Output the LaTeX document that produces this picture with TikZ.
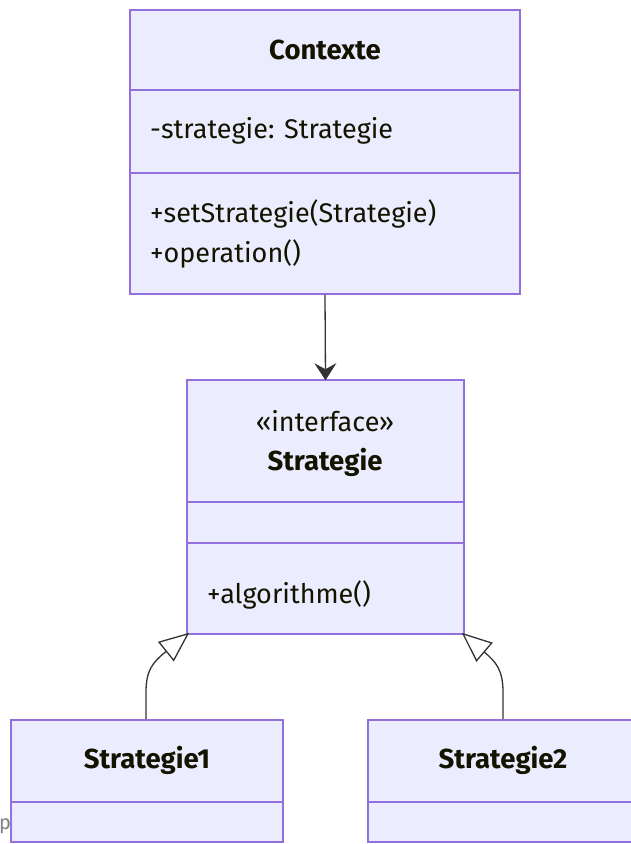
\documentclass[tikz,border=0pt]{standalone}
\usepackage{fontspec}
\setmainfont{Fira Sans}
\usetikzlibrary{arrows.meta}
\definecolor{boxfill}{HTML}{ECECFF}
\definecolor{boxline}{HTML}{9370DB}
\definecolor{arrowc}{HTML}{333333}
\definecolor{txt}{HTML}{131300}
\begin{document}
\begin{tikzpicture}[x=1pt,y=-1pt,
  box/.style={draw=boxline,fill=boxfill,line width=1.6pt,rectangle,inner sep=0pt},
  sep/.style={draw=boxline,line width=1.6pt},
  lbl/.style={font=\fontsize{27}{31}\selectfont,text=txt,inner sep=0pt},
  ttl/.style={lbl,font=\fontsize{27.5}{31}\selectfont\bfseries},
  assoc/.style={draw=arrowc,line width=1.3pt,-{Stealth[length=17pt,width=22pt,inset=6pt,line width=1pt]}},
  inh/.style={draw=arrowc,line width=1.3pt,-{Triangle[open,length=30pt,width=25pt,fill=white,line width=1.3pt]}}
]
\useasboundingbox (0,0) rectangle (630,844);
% Contexte
\node[box,minimum width=390pt,minimum height=284pt] (ctx) at (325,152) {};
\draw[sep] (130,90) -- (520,90);
\draw[sep] (130,173) -- (520,173);
\node[ttl] (ctxt) at (325,50) {Contexte};
\node[lbl,anchor=west] (ctxa) at (150,131) {-strategie: Strategie};
\node[lbl,anchor=west] (ctxm1) at (150,214) {+setStrategie(Strategie)};
\node[lbl,anchor=west] (ctxm2) at (150,254) {+operation()};
% Strategie
\node[box,minimum width=277pt,minimum height=254pt] (strat) at (325.5,507) {};
\draw[sep] (187,502) -- (464,502);
\draw[sep] (187,543) -- (464,543);
\node[lbl] (stereo) at (325,421) {«interface»};
\node[ttl] (stratt) at (325,462) {Strategie};
\node[lbl,anchor=west] (stratm) at (207,595) {+algorithme()};
% Strategie1
\node[box,minimum width=272pt,minimum height=122pt] (s1) at (147,781) {};
\draw[sep] (11,802) -- (283,802);
\node[ttl] (s1t) at (147,760) {Strategie1};
% Strategie2
\node[box,minimum width=272pt,minimum height=122pt] (s2) at (504,781) {};
\draw[sep] (368,802) -- (640,802);
\node[ttl] (s2t) at (503,760) {Strategie2};
% partial label
\node[anchor=west,inner sep=0pt,text=gray,font=\fontsize{20}{22}\selectfont] (pl) at (-1,826) {p};
% connectors
\draw[assoc] (ctx.south) -- ([yshift=-1pt]strat.north);
\draw[inh] ([xshift=-1pt]s1.north) -- (146,692) .. controls (146,670) and (153,662) .. ([xshift=3pt,yshift=2pt]strat.south west);
\draw[inh] ([xshift=-1pt]s2.north) -- (503,692) .. controls (503,670) and (496,662) .. ([xshift=-3pt,yshift=2pt]strat.south east);
\end{tikzpicture}
\end{document}
